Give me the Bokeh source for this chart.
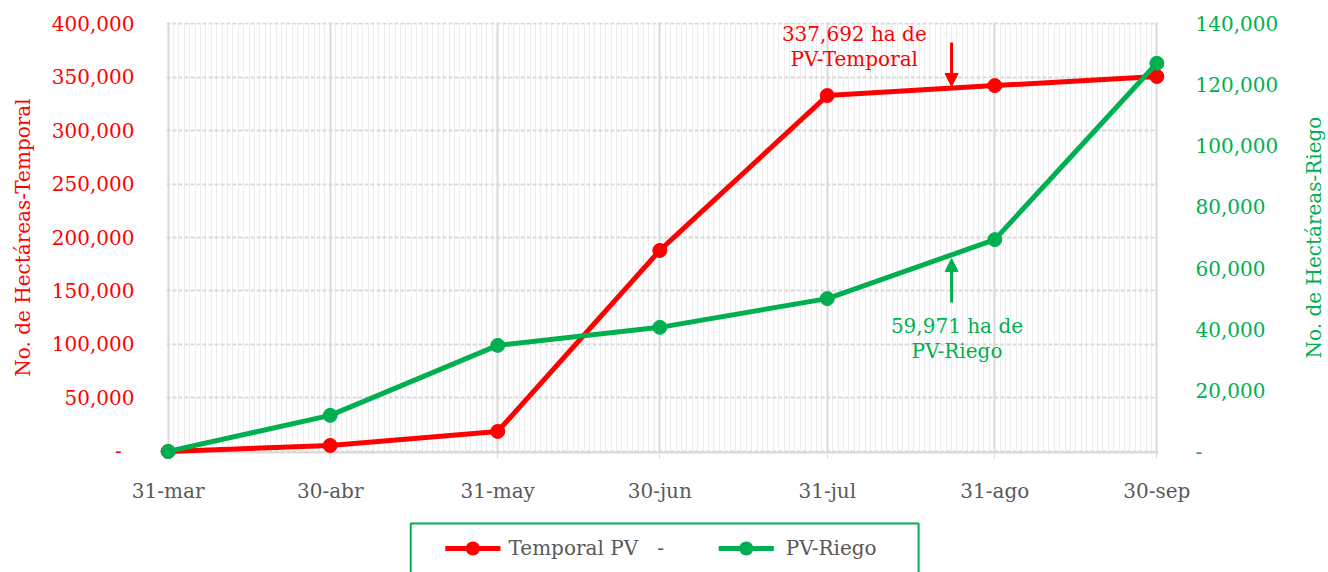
import math
import pandas as pd
from bokeh.plotting import figure
from bokeh.models import (Range1d, LinearAxis, FixedTicker, NumeralTickFormatter,
                          Arrow, NormalHead, ColumnDataSource)
from bokeh.core.properties import value
from bokeh.embed import file_html
from bokeh.resources import INLINE

# ---------------- data ----------------
dates = ["2023-03-31", "2023-04-30", "2023-05-31", "2023-06-30",
         "2023-07-31", "2023-08-31", "2023-09-30"]
x_labels = ["31-mar", "30-abr", "31-may", "30-jun", "31-jul", "31-ago", "30-sep"]
temporal = [0, 5600, 18700, 187900, 332700, 342000, 350500]
riego = [0, 11800, 34700, 40600, 50000, 69300, 127000]
left_ticks = [0, 50000, 100000, 150000, 200000, 250000, 300000, 350000, 400000]
right_ticks = [0, 20000, 40000, 60000, 80000, 100000, 120000, 140000]
legend_labels = ["Temporal PV\u00a0\u00a0 -", "PV-Riego"]
left_title = "No. de Hectáreas-Temporal"
right_title = "No. de Hectáreas-Riego"

ann_t_lines = ["337,692 ha de", "PV-Temporal"]
ann_t_date = "2023-08-05"
ann_t_y = [390700, 367300]
ann_t_arrow_date = "2023-08-23"
ann_t_arrow_y = [382200, 341100]

ann_r_lines = ["59,971 ha de", "PV-Riego"]
ann_r_date = "2023-08-24"
ann_r_y = [40900, 32700]
ann_r_arrow_date = "2023-08-23"
ann_r_arrow_y = [48700, 63100]

# position of the right-hand axis title (outside the frame, in data units)
right_title_date = "2023-10-29"
right_title_y = 200000

# legend layout below the frame (days after the first date / left-axis units)
legend_box_days = [44.9, 138.9]
legend_box_y = [-67400, -130000]
legend_row_y = -90700
legend_seg_days = [[51.3, 61.5], [101.9, 112.1]]
legend_text_days = [63.0, 114.3]

RED = "#FF0000"
GREEN = "#00B050"
GRAY = "#595959"
FONT = "DejaVu Serif"
FS = "20px"

FRAME_W = 992
FRAME_H = 430


def ms(d):
    return float((pd.Timestamp(d) - pd.Timestamp("1970-01-01")) // pd.Timedelta("1ms"))


x_dt = pd.to_datetime(dates)
tick_ms = [ms(d) for d in dates]
minor_ms = [ms(d) for d in pd.date_range(dates[0], dates[-1], freq="D")]
day = 86400000.0


def dx(days):
    return tick_ms[0] + days * day


src = ColumnDataSource(dict(x=x_dt, t=temporal, r=riego))

p = figure(x_axis_type="datetime", frame_width=FRAME_W, frame_height=FRAME_H,
           min_border_left=166, min_border_right=170, min_border_top=22,
           min_border_bottom=120, output_backend="svg", toolbar_location=None,
           x_range=Range1d(tick_ms[0] - 0.3 * day, tick_ms[-1] + 0.3 * day),
           y_range=Range1d(-1000, 401000))
p.outline_line_color = None
p.background_fill_color = "white"
p.border_fill_color = "white"

p.extra_y_ranges = {"riego": Range1d(-1000 * 140000 / 400000, 401000 * 140000 / 400000)}

# x axis
xt = FixedTicker(ticks=tick_ms, minor_ticks=minor_ms)
xax = p.xaxis[0]
xax.ticker = xt
xax.major_label_overrides = {t: l for t, l in zip(tick_ms, x_labels)}
xax.major_label_text_font = FONT
xax.major_label_text_font_size = FS
xax.major_label_text_color = GRAY
xax.axis_line_color = "#D9D9D9"
xax.axis_line_width = 2
xax.major_tick_line_color = "#D9D9D9"
xax.major_tick_in = 0
xax.major_tick_out = 6
xax.minor_tick_line_color = None
xax.major_label_standoff = 20

# left axis
yax = p.yaxis[0]
yax.ticker = FixedTicker(ticks=left_ticks)
yax.formatter = NumeralTickFormatter(format="0,0")
yax.major_label_overrides = {0: "-\u00a0\u00a0"}
yax.major_label_text_font = FONT
yax.major_label_text_font_size = FS
yax.major_label_text_color = RED
yax.axis_line_color = None
yax.major_tick_line_color = None
yax.minor_tick_line_color = None
yax.major_label_standoff = 26
yax.axis_label = left_title
yax.axis_label_text_font = FONT
yax.axis_label_text_font_size = FS
yax.axis_label_text_font_style = "normal"
yax.axis_label_text_color = RED
yax.axis_label_standoff = 14

# right axis
rax = LinearAxis(y_range_name="riego", ticker=FixedTicker(ticks=right_ticks),
                 formatter=NumeralTickFormatter(format="0,0"))
rax.major_label_overrides = {0: "-"}
rax.major_label_text_font = FONT
rax.major_label_text_font_size = FS
rax.major_label_text_color = GREEN
rax.axis_line_color = None
rax.major_tick_line_color = None
rax.minor_tick_line_color = None
rax.major_label_standoff = 31
p.add_layout(rax, "right")

# grids
p.xgrid.ticker = xt
p.xgrid.grid_line_color = "#D9D9D9"
p.xgrid.grid_line_width = 2
p.xgrid.minor_grid_line_color = "#EDEDED"
p.xgrid.minor_grid_line_width = 1
p.ygrid.ticker = FixedTicker(ticks=left_ticks)
p.ygrid.grid_line_color = "#D9D9D9"
p.ygrid.grid_line_width = 2
p.ygrid.grid_line_dash = "4 2"

# series
lt = p.line("x", "t", source=src, line_color=RED, line_width=5, level="overlay")
st = p.scatter("x", "t", source=src, size=14, fill_color=RED, line_color=RED, level="overlay")
lr = p.line("x", "r", source=src, line_color=GREEN, line_width=5, level="overlay",
            y_range_name="riego")
sr = p.scatter("x", "r", source=src, size=14, fill_color=GREEN, line_color=GREEN,
               level="overlay", y_range_name="riego")

# annotations
p.text(x=[pd.Timestamp(ann_t_date)] * 2, y=ann_t_y, text=ann_t_lines,
       text_color=RED, text_font=value(FONT), text_font_size=FS,
       text_align="center", text_baseline="middle", level="overlay")
p.text(x=[pd.Timestamp(ann_r_date)] * 2, y=ann_r_y, text=ann_r_lines,
       text_color=GREEN, text_font=value(FONT), text_font_size=FS,
       text_align="center", text_baseline="middle", level="overlay",
       y_range_name="riego")
p.add_layout(Arrow(x_start=ms(ann_t_arrow_date), y_start=ann_t_arrow_y[0],
                   x_end=ms(ann_t_arrow_date), y_end=ann_t_arrow_y[1],
                   line_color=RED, line_width=3,
                   end=NormalHead(size=13, fill_color=RED, line_color=RED)))
p.add_layout(Arrow(x_start=ms(ann_r_arrow_date), y_start=ann_r_arrow_y[0],
                   x_end=ms(ann_r_arrow_date), y_end=ann_r_arrow_y[1],
                   line_color=GREEN, line_width=3, y_range_name="riego",
                   end=NormalHead(size=13, fill_color=GREEN, line_color=GREEN)))

# right axis title, reads bottom-to-top
p.text(x=[pd.Timestamp(right_title_date)], y=[right_title_y], text=[right_title],
       angle=math.pi / 2, text_color=GREEN, text_font=value(FONT), text_font_size=FS,
       text_align="center", text_baseline="middle", level="overlay")

# legend below the frame (box, line-with-marker swatches, labels)
p.quad(left=[dx(legend_box_days[0])], right=[dx(legend_box_days[1])],
       top=[legend_box_y[0]], bottom=[legend_box_y[1]],
       fill_color=None, line_color=GREEN, line_width=2, level="overlay")
for (d0, d1), col in zip(legend_seg_days, [RED, GREEN]):
    p.line(x=[dx(d0), dx(d1)], y=[legend_row_y] * 2, line_color=col, line_width=5,
           level="overlay")
    mid = (d0 + d1) / 2
    # marker dot (round-capped short stroke; point glyphs outside the frame are culled)
    p.line(x=[dx(mid - 0.02), dx(mid + 0.02)], y=[legend_row_y] * 2, line_color=col,
           line_width=14, line_cap="round", level="overlay")
p.text(x=[dx(d) for d in legend_text_days], y=[legend_row_y] * 2, text=legend_labels,
       text_color=GRAY, text_font=value(FONT), text_font_size=FS,
       text_align="left", text_baseline="middle", level="overlay")

open("out.html", "w").write(file_html(p, INLINE))
